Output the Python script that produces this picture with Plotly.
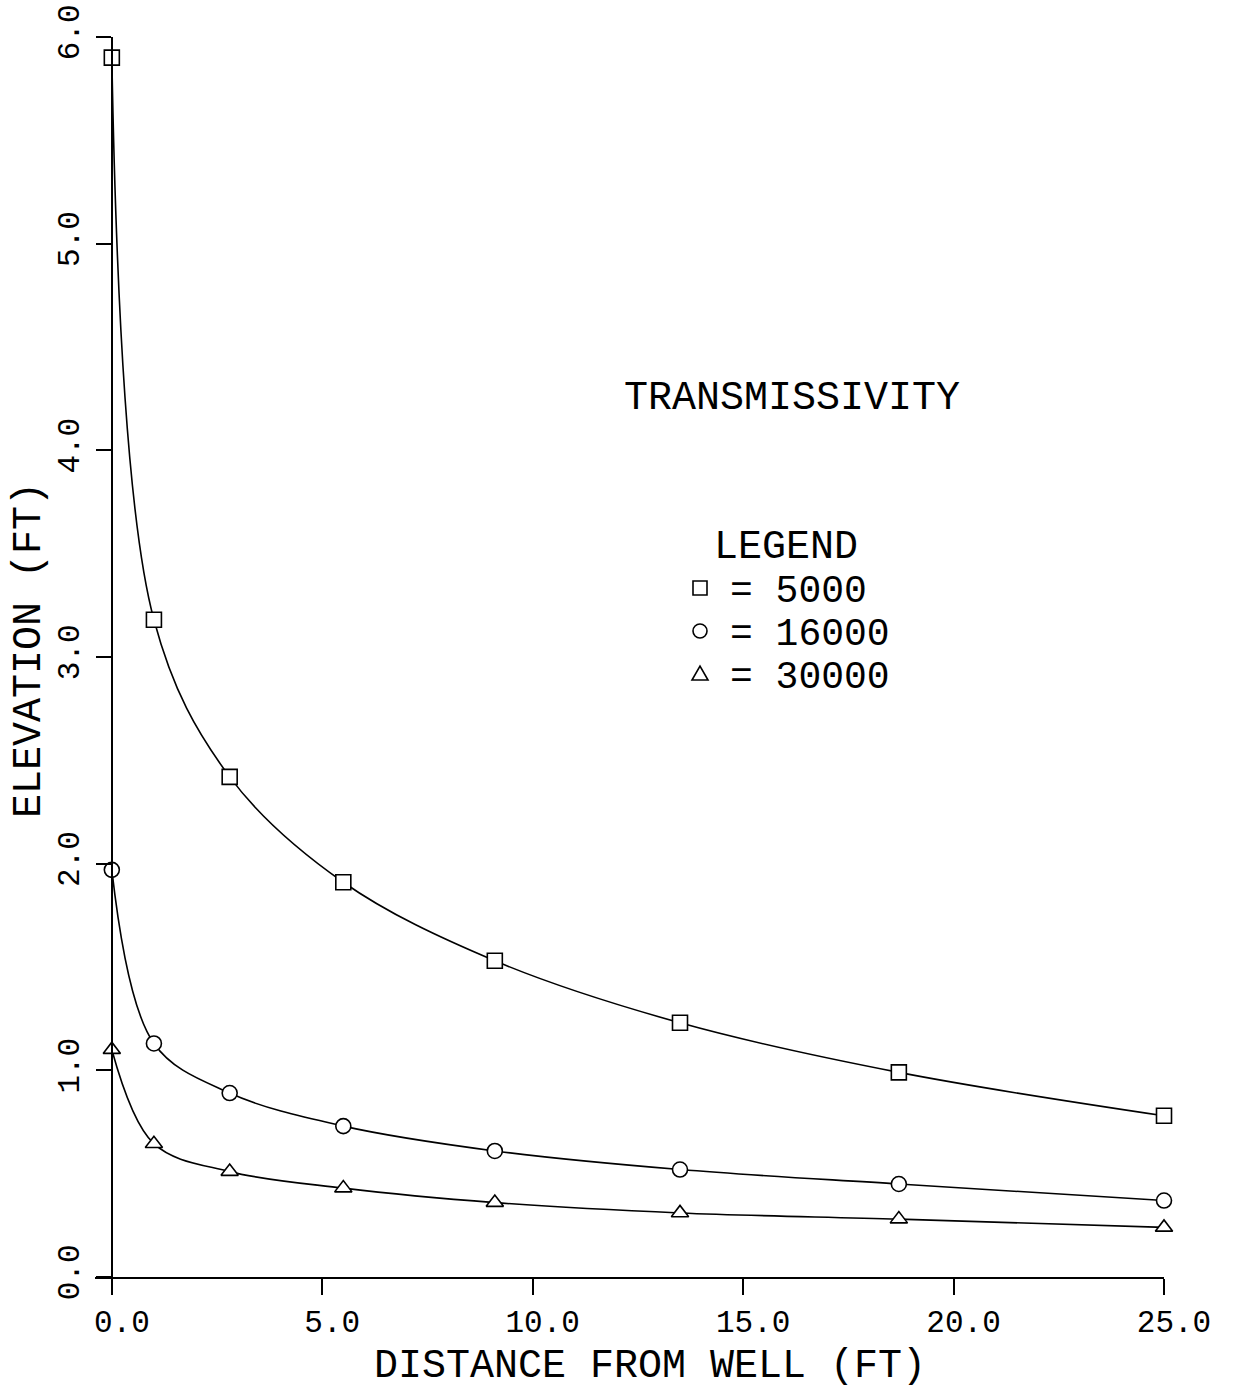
import plotly.graph_objects as go

# ---- data ----
distance = [0.0, 1.0, 2.8, 5.5, 9.1, 13.5, 18.7, 25.0]
elev_5000 = [5.90, 3.18, 2.42, 1.91, 1.53, 1.23, 0.99, 0.78]
elev_16000 = [1.97, 1.13, 0.89, 0.73, 0.61, 0.52, 0.45, 0.37]
elev_30000 = [1.10, 0.645, 0.51, 0.43, 0.36, 0.31, 0.28, 0.24]
legend_labels = ["= 5000", "= 16000", "= 30000"]
x_ticks = [0, 5, 10, 15, 20, 25]
y_ticks = [0, 1, 2, 3, 4, 5, 6]

FONT = "Liberation Mono"
W, H = 1235, 1388
L, R, T, B = 95, 71, 37, 111
PW, PH = W - L - R, H - T - B


def px(xp):
    return (xp - L) / PW


def py(yp):
    return (H - B - yp) / PH


fig = go.Figure()
series = [
    (elev_5000, "square"),
    (elev_16000, "circle"),
    (elev_30000, "triangle-up"),
]
for ys, sym in series:
    fig.add_trace(go.Scatter(
        x=distance, y=ys, mode="lines+markers",
        line=dict(color="black", width=1.6, shape="spline", smoothing=1.0),
        marker=dict(symbol=sym, size=15, color="white",
                    line=dict(color="black", width=1.6)),
        showlegend=False, cliponaxis=False,
    ))

fig.update_layout(
    width=W, height=H,
    margin=dict(l=L, r=R, t=T, b=B, pad=0, autoexpand=False),
    paper_bgcolor="white", plot_bgcolor="white",
    font=dict(family=FONT, color="black"),
    xaxis=dict(
        range=[-0.4, 25.0], tickvals=x_ticks, tickformat=".1f",
        showline=True, linecolor="black", linewidth=1.6,
        ticks="outside", ticklen=16, tickwidth=1.6, tickcolor="black",
        showgrid=False, zeroline=False, automargin=False,
        tickfont=dict(family=FONT, size=31, color="black"),
        ticklabelshift=10, ticklabeloverflow="allow",
    ),
    yaxis=dict(
        range=[0, 6.0], tickvals=y_ticks, tickformat=".1f",
        anchor="free", position=0.4 / 25.4,
        showline=True, linecolor="black", linewidth=1.6,
        ticks="outside", ticklen=15, tickwidth=1.6, tickcolor="black",
        showgrid=False, zeroline=False, tickangle=-90, automargin=False,
        tickfont=dict(family=FONT, size=31, color="black"),
        ticklabeloverflow="allow", ticklabelstandoff=5, ticklabelshift=0,
    ),
)

texts = [
    ("DISTANCE FROM WELL (FT)", 650, 1366, 0),
    ("ELEVATION (FT)", 29, 650, -90),
    ("TRANSMISSIVITY", 792, 398, 0),
    ("LEGEND", 786, 547, 0),
]
for txt, xp, yp, ang in texts:
    fig.add_annotation(text=txt, xref="paper", yref="paper", x=px(xp), y=py(yp),
                       xanchor="center", yanchor="middle", showarrow=False,
                       textangle=ang, font=dict(family=FONT, size=40, color="black"))

rows_y = [588, 631, 674]
for lbl, yp in zip(legend_labels, rows_y):
    fig.add_annotation(text=lbl, xref="paper", yref="paper", x=px(728), y=py(yp + 3),
                       xanchor="left", yanchor="middle", showarrow=False,
                       font=dict(family=FONT, size=38, color="black"))

sym_x = px(700)
common = dict(xref="paper", yref="paper", xsizemode="pixel", ysizemode="pixel",
              line=dict(color="black", width=1.6), xanchor=sym_x)
fig.add_shape(type="rect", x0=-7, x1=7, y0=-7, y1=7, yanchor=py(rows_y[0]), **common)
fig.add_shape(type="circle", x0=-7, x1=7, y0=-7, y1=7, yanchor=py(rows_y[1]), **common)
fig.add_shape(type="path", path="M -8,-6 L 8,-6 L 0,8 Z", yanchor=py(rows_y[2]), **common)

fig.write_html("out.html")
